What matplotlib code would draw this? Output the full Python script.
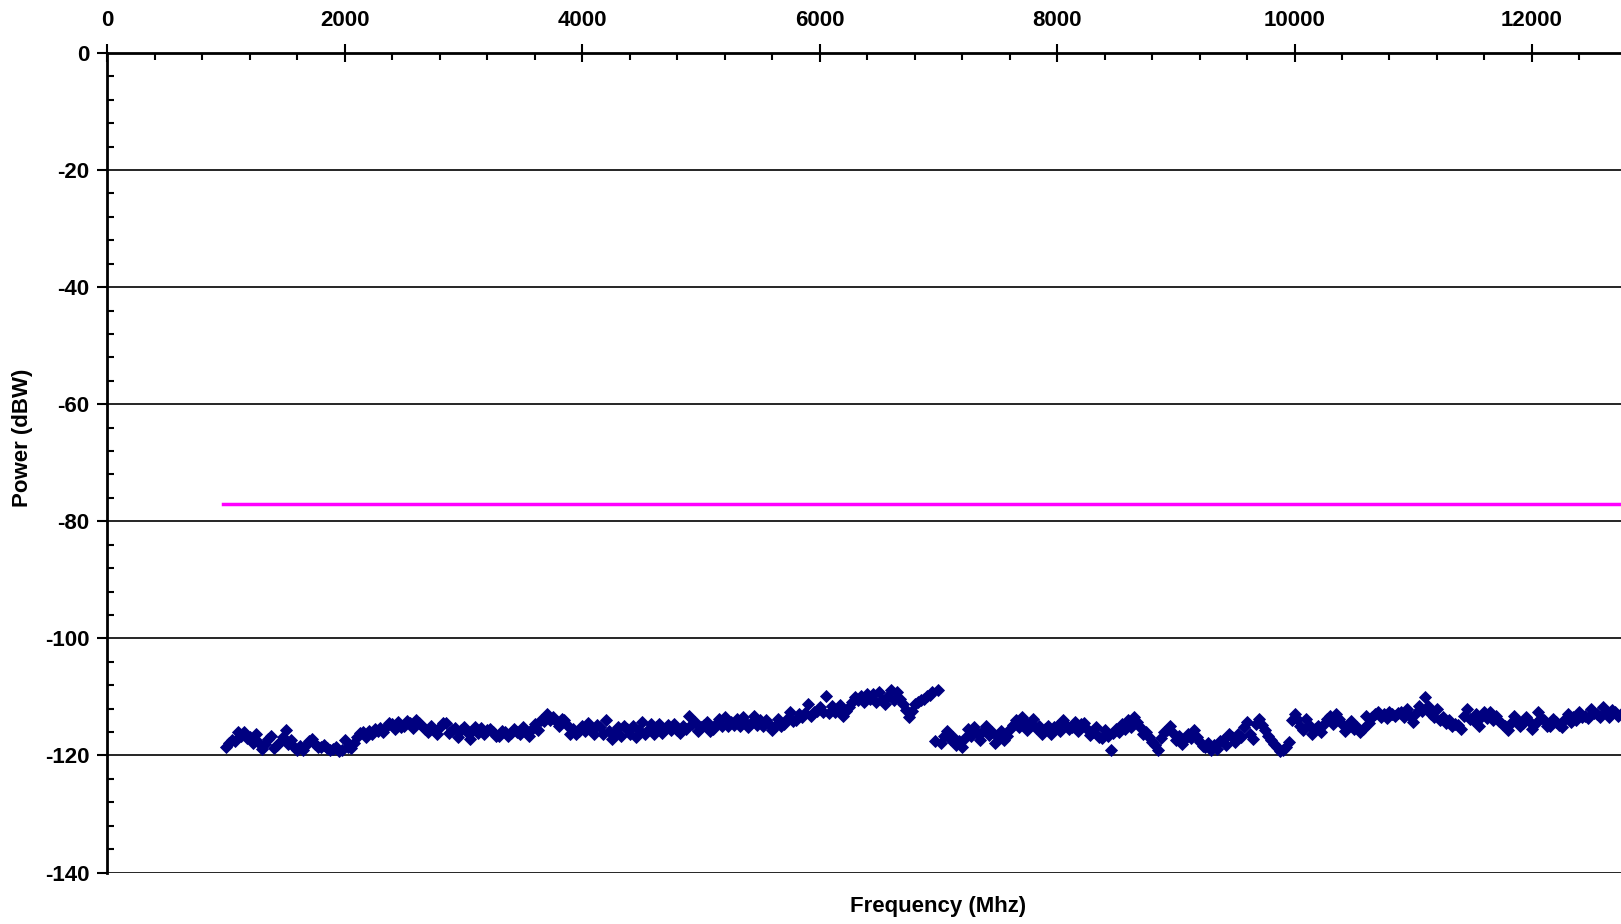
import numpy as np
import matplotlib
matplotlib.use("Agg")
import matplotlib.pyplot as plt
from matplotlib.ticker import MultipleLocator

# -------------------------------
# Measured spectrum (dBW), one sample every 25 MHz from 1000 MHz
# (stored as on-grid 50 MHz readings plus the in-between readings)
# -------------------------------
start_freq = 1000
step_freq = 50

power_a = [-118.5, -117.3, -116.0, -116.0, -116.9, -116.4, -118.9, -117.2, -118.7, -117.7,
           -115.7, -117.4, -119.1, -119.1, -117.6, -118.1, -118.5, -118.7, -118.9, -119.3,
           -117.4, -118.7, -116.8, -116.0, -115.9, -115.5, -115.3, -115.1, -114.6, -114.3,
           -114.9, -114.5, -113.9, -114.9, -116.0, -115.7, -115.2, -114.5, -115.6, -116.9,
           -115.2, -117.2, -115.1, -115.3, -115.6, -116.0, -116.6, -116.0, -116.2, -116.0,
           -115.1, -116.6, -114.6, -113.9, -112.9, -113.5, -115.0, -114.0]
power_b = [-116.3, -116.3, -114.9, -114.5, -116.3, -115.2, -114.0, -117.2, -115.2, -114.9,
           -116.3, -116.9, -114.3, -115.7, -116.3, -114.6, -115.5, -115.7, -115.7, -114.9,
           -113.2, -114.3, -115.2, -114.3, -115.5, -113.8, -113.5, -114.3, -113.8, -113.5,
           -115.2, -113.2, -114.0, -114.0, -115.7, -113.8, -114.6, -112.6, -114.0, -113.5,
           -111.2, -112.6, -111.8, -109.8, -111.5, -112.0, -113.2, -111.8, -110.0, -109.8,
           -109.5, -109.5, -109.2, -111.2, -108.9, -109.2, -111.2, -113.5, -111.2]
power_c = [-110.6, -109.8, -109.2, -108.9, -116.6, -117.2, -118.3, -118.6, -115.5, -115.2,
           -117.4, -114.9, -116.0, -116.9, -117.4, -115.5, -114.0, -113.5, -115.7, -113.8,
           -114.9, -115.5, -116.3, -114.9, -114.0, -115.5, -114.3, -114.6, -115.5, -116.0,
           -116.9, -115.7, -119.1, -115.5, -114.6, -114.0, -113.5, -115.2, -116.0, -117.7,
           -119.1, -116.0, -114.9, -117.4, -118.0, -116.3, -115.7, -117.7, -118.6, -119.1,
           -118.9, -117.4, -116.3, -117.7, -116.9, -114.3, -117.2, -113.8, -115.7]
power_d = [-117.4, -118.6, -119.1, -117.7, -112.9, -114.9, -113.8, -116.3, -114.9, -114.6,
           -113.2, -112.9, -114.6, -114.9, -115.5, -116.0, -113.2, -113.5, -112.6, -112.9,
           -112.6, -113.2, -112.6, -112.0, -114.3, -111.5, -110.1, -112.9, -112.0, -113.5,
           -114.0, -114.6, -115.5, -112.0, -114.0, -114.9, -112.6, -112.6, -113.2, -114.6,
           -115.7, -113.2, -114.9, -113.5, -115.5, -112.6, -114.0, -114.9, -114.3, -115.2,
           -112.9, -113.5, -112.6, -113.2, -112.0, -112.9, -111.8, -113.5, -112.6, -113.0]

# readings halfway between the grid points (1025, 1075, ...)
mid_a = [-117.8, -117.6, -116.6, -117.0, -117.8, -117.9, -118.0, -116.6, -118.2, -116.8,
         -118.0, -118.6, -118.4, -118.3, -117.2, -118.6, -118.2, -119.0, -118.5, -119.0,
         -118.6, -117.8, -116.2, -116.8, -116.4, -115.9, -116.0, -114.5, -115.4, -115.2,
         -114.2, -115.3, -114.5, -115.4, -115.0, -116.3, -114.4, -116.1, -115.3, -115.6,
         -116.0, -115.8, -116.1, -116.4, -115.4, -116.6, -115.8, -116.6, -115.5, -116.3,
         -116.0, -115.4, -115.6, -114.2, -113.9, -114.2, -113.8, -114.8]
mid_b = [-115.4, -115.8, -115.9, -115.6, -114.8, -116.4, -115.8, -116.0, -116.6, -115.5,
         -115.0, -115.6, -116.4, -114.7, -115.2, -116.2, -114.8, -114.6, -116.2, -115.5,
         -114.6, -115.9, -114.8, -115.8, -114.6, -114.9, -115.0, -114.8, -114.9, -114.4,
         -114.5, -114.8, -115.0, -114.6, -114.9, -115.0, -113.8, -114.2, -113.0, -112.8,
         -113.2, -112.4, -112.6, -112.8, -112.6, -111.4, -112.4, -110.8, -110.6, -110.8,
         -110.4, -110.8, -110.6, -109.9, -110.6, -110.4, -112.2, -112.4, -110.9]
mid_c = [-110.4, -109.6, -117.6, -117.8, -115.9, -116.8, -117.6, -117.0, -116.6, -116.2,
         -115.8, -116.5, -117.8, -115.8, -116.6, -114.8, -115.2, -114.2, -114.6, -115.3,
         -116.4, -115.0, -115.2, -115.8, -114.8, -115.2, -115.8, -114.4, -116.5, -115.2,
         -117.0, -116.6, -116.2, -116.0, -115.4, -115.2, -114.3, -116.4, -116.8, -118.2,
         -117.0, -115.6, -116.2, -116.6, -117.2, -117.0, -116.8, -118.4, -117.8, -118.3,
         -117.6, -118.2, -116.9, -116.4, -115.2, -116.3, -114.6, -114.8, -116.6]
mid_d = [-118.0, -119.3, -118.6, -114.0, -113.8, -115.6, -114.8, -115.4, -116.0, -113.8,
         -114.6, -113.7, -115.8, -114.2, -115.2, -115.4, -114.4, -112.9, -113.4, -113.6,
         -113.0, -112.8, -113.4, -113.2, -112.8, -112.4, -111.6, -113.4, -114.0, -114.4,
         -115.0, -114.8, -113.2, -113.8, -113.0, -113.4, -113.6, -114.0, -114.2, -115.0,
         -114.4, -114.0, -114.4, -114.2, -114.6, -113.6, -115.0, -113.8, -114.8, -113.8,
         -114.3, -114.0, -113.4, -113.6, -112.8, -113.4, -112.6, -112.3, -113.2, -112.6]

power_grid = np.array(power_a + power_b + power_c + power_d)
power_mid = np.array(mid_a + mid_b + mid_c + mid_d)
freq_grid = start_freq + step_freq * np.arange(len(power_grid))
freq_mid = start_freq + step_freq / 2 + step_freq * np.arange(len(power_mid))

freq = np.concatenate([freq_grid, freq_mid])
power = np.concatenate([power_grid, power_mid])

# limit line
limit_freq = [975, 14000]
limit_power = [-77, -77]

# -------------------------------
# Plot
# -------------------------------
plt.rcParams['font.family'] = ['Liberation Sans', 'DejaVu Sans']
plt.rcParams['font.weight'] = 'bold'
plt.rcParams['axes.unicode_minus'] = False

fig = plt.figure(figsize=(16.21, 9.24), dpi=100)
ax = fig.add_axes([0.0663, 0.0557, 0.9886, 0.887])

ax.set_xlim(0, 13500)
ax.set_ylim(-140, 0)

for y in range(-140, 0, 20):
    ax.axhline(y, color='black', lw=1.2, zorder=1)

ax.plot(limit_freq, limit_power, color='#ff00ff', lw=2.5, zorder=2)
ax.plot(freq, power, ls='none', marker='D', ms=6.6, color='#000080',
        mec='#000080', mew=0.6, zorder=3)

ax.xaxis.set_ticks_position('top')
ax.xaxis.set_major_locator(MultipleLocator(2000))
ax.xaxis.set_minor_locator(MultipleLocator(400))
ax.yaxis.set_major_locator(MultipleLocator(20))
ax.yaxis.set_minor_locator(MultipleLocator(4))

ax.tick_params(axis='x', which='major', direction='inout', length=13, width=1.5,
               labelsize=16, pad=9)
ax.tick_params(axis='x', which='minor', direction='in', length=5, width=1.5)
ax.tick_params(axis='y', which='major', direction='out', length=7, width=1.5,
               labelsize=16, pad=6)
ax.tick_params(axis='y', which='minor', direction='in', length=5, width=1.5)

for side in ['right', 'bottom']:
    ax.spines[side].set_visible(False)
for side in ['left', 'top']:
    ax.spines[side].set_linewidth(2)

fig.text(0.5785, 0.0188, 'Frequency (Mhz)', ha='center', va='center',
         fontsize=16, fontweight='bold')
fig.text(0.014, 0.526, 'Power (dBW)', ha='center', va='center',
         rotation=90, fontsize=16, fontweight='bold')

fig.savefig('out.png', dpi=100)
